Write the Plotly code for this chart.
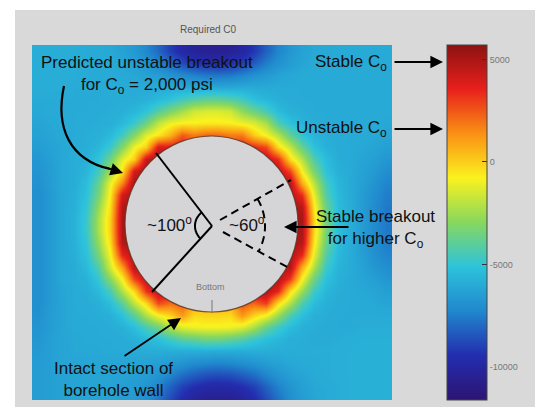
import numpy as np
import plotly.graph_objects as go

# Required Co field (thousands of psi), read on a 30 x 30 grid of cell centres
x_centres = [38 + 12 * i for i in range(30)]
y_centres = [51 + 12 * j for j in range(30)]
z_rows = [
 [-5.9,-5.9,-5.9,-5.9,-6,-6,-6.1,-6.3,-6.6,-7.2,-8,-9,-9.8,-10.3,-10.5, -10.5,-10.4,-10,-9.2,-8.2,-7.3,-6.7,-6.3,-6.1,-6.1,-6,-6,-6,-6,-6],
 [-5.9,-5.9,-5.9,-5.9,-6,-6,-6,-6.2,-6.4,-6.8,-7.3,-8,-8.7,-9.2,-9.5, -9.6,-9.4,-9,-8.3,-7.5,-6.9,-6.5,-6.2,-6,-6,-6,-6,-6,-6,-6],
 [-5.9,-5.9,-5.9,-5.9,-6,-6,-6,-6,-6.1,-6.3,-6.5,-6.8,-7.1,-7.4,-7.6, -7.7,-7.6,-7.3,-6.9,-6.6,-6.3,-6.1,-6,-6,-6,-6,-6,-6,-6,-6],
 [-5.9,-5.9,-5.9,-6,-6,-6,-6,-6,-6,-6,-6,-6,-6,-6.1,-6.1, -6.1,-6.1,-6,-6,-6,-6,-6,-6,-6,-6,-6,-6,-6,-6,-6],
 [-6,-6,-6,-6,-6,-6,-5.95,-5.9,-5.9,-5.8,-5.5,-5.15,-4.6,-4.2,-3.9, -3.9,-4.2,-4.6,-5.3,-5.6,-5.85,-5.95,-6,-6,-6,-6,-6,-6,-6,-6],
 [-6.1,-6,-6,-6,-6,-5.95,-5.9,-5.85,-5.6,-5.1,-4.15,-3.25,-2.45,-1.6,-1.4, -1.4,-1.6,-2.8,-3.6,-4.45,-5.4,-5.8,-5.9,-6,-6,-6,-6,-6,-6,-6],
 [-6.2,-6.1,-6,-6,-5.95,-5.9,-5.85,-5.5,-4.8,-3.6,-1.9,-1,-0.7,-0.7,-0.6, -0.6,-0.7,-1,-1.4,-2.3,-4.3,-5.2,-5.7,-5.9,-6,-6,-6,-6,-6,-6.1],
 [-6.3,-6.2,-6,-6,-5.9,-5.85,-5.5,-4.6,-3.1,-1.3,-0.5,0.6,2.4,1.8,2.2, 2.2,1.8,1.8,0.1,-0.9,-2.1,-3.8,-5.1,-5.7,-5.9,-6,-6,-6,-6.1,-6.2],
 [-6.5,-6.3,-6.1,-5.95,-5.9,-5.6,-4.8,-3.1,-1,0,4,3.75,4,2.8,2.8, 2.8,2.8,3.65,3.4,2.8,-0.3,-1.8,-3.8,-5.2,-5.8,-5.95,-6,-6.1,-6.2,-6.4],
 [-6.7,-6.4,-6.1,-5.9,-5.8,-5.1,-3.6,-1.3,0,4.3,5.2,5.2,4,3,2.8, 2.8,3,3.6,4.5,4.5,3.3,-0.3,-2.1,-4.3,-5.4,-5.9,-6,-6.2,-6.4,-6.7],
 [-6.8,-6.5,-6.1,-5.9,-5.65,-4.6,-2.5,-0.5,4,5.2,5.2,5.2,4.5,3.5,3, 3,3.5,4,4.5,4.5,4.5,2.8,-0.9,-3.35,-5.15,-5.8,-6,-6.3,-6.6,-7],
 [-6.9,-6.5,-6.1,-5.9,-5.35,-3.85,-1.1,1.55,5.1,5.2,5.2,5,4.5,4,4, 4,4,4.3,4.5,4.5,4.5,4.75,0.75,-2.05,-4.55,-5.6,-6,-6.4,-6.8,-7.3],
 [-7,-6.6,-6.1,-5.85,-5.2,-3.4,-0.65,4.1,5.2,5.2,5.2,5.2,5.2,5.2,5.2, 5,5,5,5,5,5,4.85,3.3,-1.2,-4.2,-5.5,-5.95,-6.5,-7,-7.5],
 [-7,-6.6,-6.1,-5.8,-5,-2.8,-0.3,4.8,5.2,5.2,5.2,5.2,5.2,5.2,5.2, 5.2,5.2,5.2,5.2,5.2,5.2,5.2,4.7,-0.6,-3.7,-5.4,-5.9,-6.5,-7.1,-7.6],
 [-7,-6.6,-6.1,-5.75,-4.8,-2.4,0,5,5.2,5.2,5.2,5.2,5.2,5.2,5.2, 5.2,5.2,5.2,5.2,5.2,5.2,5.2,5,-0.2,-3.4,-5.3,-5.9,-6.5,-7.1,-7.6],
 [-7,-6.6,-6.1,-5.75,-4.8,-2.4,0,5,5.2,5.2,5.2,5.2,5.2,5.2,5.2, 5.2,5.2,5.2,5.2,5.2,5.2,5.2,5,-0.2,-3.4,-5.3,-5.9,-6.5,-7.1,-7.6],
 [-7,-6.6,-6.1,-5.8,-5,-2.8,-0.3,4.8,5.2,5.2,5.2,5.2,5.2,5.2,5.2, 5.2,5.2,5.2,5.2,5.2,5.2,5.2,4.7,-0.6,-3.7,-5.4,-5.9,-6.5,-7,-7.5],
 [-7,-6.6,-6.1,-5.85,-5.2,-3.4,-0.9,3.5,4.85,4.8,4.6,4.4,4.2,4,4, 4.5,4.5,4.6,4.8,4.9,5,5,3.4,-1.25,-4.2,-5.5,-5.95,-6.4,-6.9,-7.3],
 [-7,-6.6,-6.1,-5.95,-5.5,-4.25,-1.55,1.1,4.7,4.5,4.5,4,3.2,2.5,2, 2,2.5,3,3.8,4.5,4.8,4.85,0.8,-2.25,-4.75,-5.7,-5.95,-6.3,-6.7,-7],
 [-7,-6.6,-6.1,-5.95,-5.75,-4.95,-3,-0.8,2.8,4.5,4.5,3.5,2.5,1.5,1, 1,1.5,2.5,3.5,4.8,4.8,3,-0.9,-3.65,-5.25,-5.8,-6,-6.2,-6.4,-6.7],
 [-7,-6.6,-6.2,-6,-5.9,-5.5,-4.4,-2.2,-0.2,3.2,4.5,4.5,2.5,1,0.9, 0.9,1,2.5,4.8,4.8,3.5,-0.3,-2.6,-4.7,-5.6,-5.9,-6,-6.1,-6.2,-6.4],
 [-7,-6.6,-6.2,-6,-5.95,-5.85,-5.3,-4,-1.9,-0.2,2.8,2.1,2.4,0.8,0.8, 0.8,0.8,2.55,2.25,3,-0.3,-2.2,-4.3,-5.4,-5.85,-5.95,-6,-6,-6.1,-6.2],
 [-6.9,-6.5,-6.2,-6,-6,-5.9,-5.8,-5.2,-4,-2.2,-0.8,-0.05,1.2,-0.2,-0.1, -0.1,-0.2,1.3,-0.05,-0.9,-2.6,-4.3,-5.3,-5.8,-5.9,-6,-6,-6,-6,-6],
 [-6.8,-6.5,-6.2,-6,-6,-6,-5.9,-5.8,-5.3,-4.4,-3.5,-2.15,-1.3,-1,-0.9, -0.9,-1,-1.35,-2.3,-3.7,-4.7,-5.4,-5.8,-5.9,-5.95,-6,-6,-5.9,-5.9,-5.9],
 [-6.7,-6.4,-6.2,-6.1,-6,-6,-6,-5.95,-5.85,-5.5,-5.25,-4.65,-4.05,-3.8,-3.5, -3.5,-3.8,-4.2,-4.8,-5.3,-5.6,-5.85,-5.9,-5.95,-5.95,-5.9,-5.85,-5.8,-5.8,-5.8],
 [-6.6,-6.4,-6.2,-6.1,-6.1,-6.05,-6,-6,-6,-5.95,-5.9,-5.9,-5.9,-5.9,-5.9, -5.95,-5.95,-5.95,-5.9,-5.9,-5.9,-5.9,-5.9,-5.9,-5.9,-5.85,-5.8,-5.8,-5.8,-5.8],
 [-6.5,-6.4,-6.2,-6.2,-6.2,-6.2,-6.2,-6.2,-6.25,-6.3,-6.4,-6.6,-6.8,-7.1,-7.2, -7.3,-7.2,-7,-6.8,-6.5,-6.3,-6.1,-6,-5.95,-5.9,-5.85,-5.8,-5.8,-5.8,-5.8],
 [-6.5,-6.4,-6.3,-6.2,-6.2,-6.2,-6.2,-6.3,-6.4,-6.5,-6.8,-7.3,-7.9,-8.3,-8.6, -8.7,-8.6,-8.3,-7.9,-7.3,-6.8,-6.4,-6.2,-6,-5.9,-5.85,-5.8,-5.8,-5.8,-5.8],
 [-6.5,-6.4,-6.3,-6.2,-6.2,-6.2,-6.3,-6.4,-6.5,-6.8,-7.3,-8.2,-9,-9.5,-9.8, -9.9,-9.8,-9.5,-9,-8.2,-7.4,-6.8,-6.4,-6.1,-6,-5.9,-5.8,-5.8,-5.8,-5.8],
 [-6.5,-6.4,-6.3,-6.2,-6.2,-6.2,-6.3,-6.4,-6.6,-7,-7.7,-8.7,-9.6,-10.2,-10.5, -10.5,-10.5,-10.2,-9.6,-8.7,-7.8,-7,-6.5,-6.2,-6,-5.9,-5.8,-5.8,-5.8,-5.8],
]
z_min, z_max = -11.6, 5.7
tick_vals = [5, 0, -5, -10]
tick_text = ["5000", "0", "-5000", "-10000"]

jet_muted = [
    [0.0, "rgb(45,20,115)"],
    [0.125, "rgb(35,45,175)"],
    [0.25, "rgb(32,135,205)"],
    [0.375, "rgb(45,195,220)"],
    [0.5, "rgb(135,215,95)"],
    [0.625, "rgb(250,242,30)"],
    [0.75, "rgb(250,145,20)"],
    [0.875, "rgb(232,32,28)"],
    [1.0, "rgb(140,18,18)"],
]

BG = "#d9d9d9"
FONT = "Liberation Sans, Arial, sans-serif"

fig = go.Figure()
fig.add_trace(go.Heatmap(
    x=x_centres, y=y_centres, z=z_rows, zmin=z_min, zmax=z_max,
    colorscale=jet_muted, zsmooth="best", hoverinfo="skip",
    colorbar=dict(
        x=447 / 535, xanchor="left", y=1 - 45 / 407, yanchor="top",
        len=355, lenmode="pixels", thickness=40, thicknessmode="pixels",
        outlinewidth=1, outlinecolor="#444", xpad=0, ypad=0,
        tickvals=tick_vals, ticktext=tick_text, ticks="inside", ticklen=5,
        tickcolor="#333", tickfont=dict(size=9, color="#777", family=FONT),
    ),
))

cx, cy = 212, 226

def arc(r, a0, a1, n=30):
    t = np.radians(np.linspace(a0, a1, n))
    pts = [f"{cx + r*np.cos(a):.1f},{cy - r*np.sin(a):.1f}" for a in t]
    return "M " + " L ".join(pts)

shapes = [
    dict(type="rect", x0=15, x1=535, y0=10, y1=407, layer="below",
         fillcolor=BG, line=dict(width=0)),
    dict(type="rect", x0=28, x1=396, y0=400, y1=408, layer="above",
         fillcolor=BG, line=dict(width=0)),
    dict(type="circle", x0=125, x1=298, y0=136, y1=312, layer="above",
         fillcolor="#d5d5d8", line=dict(color="rgba(90,50,30,0.8)", width=1.2)),
    dict(type="line", x0=cx, y0=cy, x1=156, y1=153, line=dict(color="black", width=2)),
    dict(type="line", x0=cx, y0=cy, x1=152, y1=292, line=dict(color="black", width=2)),
    dict(type="line", x0=220, y0=220, x1=291, y1=180, line=dict(color="black", width=2, dash="8px,5px")),
    dict(type="line", x0=223, y0=232, x1=289, y1=268, line=dict(color="black", width=2, dash="8px,5px")),
    dict(type="path", path=arc(17, 126, 230), line=dict(color="black", width=2)),
    dict(type="path", path=arc(53, 31, -29), line=dict(color="black", width=2, dash="8px,5px")),
    dict(type="path", path="M 64 86 C 55 128, 70 160, 110 169", line=dict(color="black", width=2.2)),
    dict(type="line", x0=212, y0=300, x1=212, y1=313, line=dict(color="#777", width=1)),
]

def arrow(hx, hy, tx, ty):
    return dict(x=hx, y=hy, ax=tx, ay=ty, axref="x", ayref="y", xref="x", yref="y",
                text="", showarrow=True, arrowhead=2, arrowsize=1.4, arrowwidth=1.8,
                arrowcolor="black", standoff=0, startstandoff=0)

def label(x, y, txt, size=17, color="#111", xanchor="center"):
    return dict(x=x, y=y, xref="x", yref="y", text=txt, showarrow=False,
                xanchor=xanchor, yanchor="middle",
                font=dict(family=FONT, size=size, color=color))

annotations = [
    label(208, 29, "Required C0", size=10, color="#555"),
    label(147, 75, "Predicted unstable breakout<br>for C<sub>o</sub> = 2,000 psi"),
    label(389, 63, "Stable C<sub>o</sub>", xanchor="right"),
    label(389, 129, "Unstable C<sub>o</sub>", xanchor="right"),
    label(375, 229, "Stable breakout<br>for higher C<sub>o</sub>"),
    label(169, 224, "~100<sup>o</sup>"),
    label(247, 224, "~60<sup>o</sup>"),
    label(210, 287, "Bottom", size=9, color="#777"),
    label(113, 379, "Intact section of<br>borehole wall"),
    arrow(443, 62, 393, 62),
    arrow(443, 129, 393, 129),
    arrow(284, 227, 350, 227),
    arrow(181, 318, 123, 357),
    arrow(123, 173, 104, 167),
]

fig.update_layout(
    width=535, height=407, margin=dict(l=0, r=0, t=0, b=0),
    paper_bgcolor="white", plot_bgcolor="white",
    xaxis=dict(range=[0, 535], visible=False, fixedrange=True),
    yaxis=dict(range=[407, 0], visible=False, fixedrange=True),
    shapes=shapes, annotations=annotations, showlegend=False,
)
fig.write_html("out.html")
